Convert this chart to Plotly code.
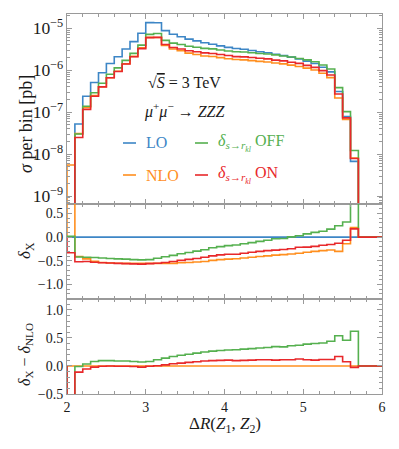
import plotly.graph_objects as go
from plotly.subplots import make_subplots

# ── Data ─────────────────────────────────────────────────────────────────────
# bins of width 0.1 in Delta R, left edges 2.0 ... 5.6
bin_lo = [2.0, 2.1, 2.2, 2.3, 2.4, 2.5, 2.6, 2.7, 2.8, 2.9,
          3.0, 3.1, 3.2, 3.3, 3.4, 3.5, 3.6, 3.7, 3.8, 3.9,
          4.0, 4.1, 4.2, 4.3, 4.4, 4.5, 4.6, 4.7, 4.8, 4.9,
          5.0, 5.1, 5.2, 5.3, 5.4, 5.5, 5.6]
bin_last_edge = 5.7

# LO cross section per bin [pb]
lo_xsec = [2e-11, 5.2e-8, 2.4e-7, 5.1e-7, 8.7e-7, 1.45e-6, 2.1e-6, 3.2e-6, 4.8e-6, 7.6e-6,
           1.36e-5, 1.35e-5, 8.8e-6, 7.2e-6, 6.3e-6, 5.5e-6, 5.0e-6, 4.5e-6, 4.15e-6, 3.8e-6,
           3.5e-6, 3.3e-6, 3.15e-6, 2.95e-6, 2.75e-6, 2.6e-6, 2.4e-6, 2.25e-6, 2.05e-6, 1.85e-6,
           1.65e-6, 1.45e-6, 1.18e-6, 9.1e-7, 3.1e-7, 7.8e-8, 6.7e-9]

# relative NLO correction delta_NLO
d_nlo = [274.0, -0.41, -0.46, -0.51, -0.535, -0.545, -0.55, -0.555, -0.555, -0.55,
         -0.555, -0.555, -0.555, -0.555, -0.54, -0.535, -0.525, -0.515, -0.49, -0.475,
         -0.465, -0.455, -0.44, -0.425, -0.41, -0.395, -0.38, -0.37, -0.355, -0.34,
         -0.32, -0.30, -0.285, -0.27, -0.30, -0.14, 0.20]

# delta_X - delta_NLO for the s -> r_kl variants
dd_off = [-273.98, -0.01, 0.035, 0.08, 0.095, 0.095, 0.09, 0.09, 0.08, 0.07,
          0.08, 0.11, 0.14, 0.17, 0.19, 0.21, 0.23, 0.25, 0.265, 0.275,
          0.285, 0.29, 0.30, 0.31, 0.32, 0.33, 0.345, 0.34, 0.36, 0.37,
          0.39, 0.40, 0.41, 0.44, 0.54, 0.46, 0.62]
dd_on = [-274.33, -0.11, -0.055, -0.02, -0.005, 0.0, -0.005, -0.005, -0.01, -0.02,
         -0.005, 0.005, 0.02, 0.04, 0.05, 0.065, 0.075, 0.09, 0.095, 0.10,
         0.105, 0.095, 0.10, 0.105, 0.11, 0.11, 0.105, 0.11, 0.11, 0.125,
         0.11, 0.105, 0.115, 0.115, 0.17, 0.075, -0.025]

# ── Derived series ───────────────────────────────────────────────────────────
d_lo = [0.0] * len(lo_xsec)
d_off = [a + b for a, b in zip(d_nlo, dd_off)]
d_on = [a + b for a, b in zip(d_nlo, dd_on)]
zero_rel = [0.0] * len(lo_xsec)

xsec = {
    "LO": lo_xsec,
    "NLO": [s * (1 + d) for s, d in zip(lo_xsec, d_nlo)],
    "OFF": [s * (1 + d) for s, d in zip(lo_xsec, d_off)],
    "ON": [s * (1 + d) for s, d in zip(lo_xsec, d_on)],
}
rel = {"LO": d_lo, "NLO": d_nlo, "OFF": d_off, "ON": d_on}
rel_nlo = {"NLO": zero_rel, "OFF": dd_off, "ON": dd_on}

# ── Style ────────────────────────────────────────────────────────────────────
COLORS = {"LO": "#3d86c6", "NLO": "#ff8f1f", "OFF": "#55b04f", "ON": "#e8282b"}
FRAME = "#9a9a9a"
FONT = "Liberation Serif"
TEXT = "#1a1a1a"
TICKFONT = dict(family=FONT, size=14, color=TEXT)

# page offset of the plot div (browser body margin)
PAGE_OFF = 8


def step_xy_log(vals):
    x = [bin_lo[0]] + bin_lo + [bin_last_edge]
    y = [1e-13] + list(vals) + [1e-13]
    return x, y


def step_xy_rel(vals):
    x = [bin_lo[0]] + bin_lo + [bin_last_edge, 6.0]
    y = [0.0] + list(vals) + [0.0, 0.0]
    return x, y


fig = make_subplots(rows=3, cols=1, shared_xaxes=True, vertical_spacing=0)

for key in ["LO", "NLO", "OFF", "ON"]:
    x, y = step_xy_log(xsec[key])
    fig.add_trace(go.Scatter(x=x, y=y, mode="lines", line_shape="hv",
                             line=dict(color=COLORS[key], width=1.6),
                             showlegend=False), row=1, col=1)
for key in ["LO", "NLO", "OFF", "ON"]:
    x, y = step_xy_rel(rel[key])
    fig.add_trace(go.Scatter(x=x, y=y, mode="lines", line_shape="hv",
                             line=dict(color=COLORS[key], width=1.6),
                             showlegend=False), row=2, col=1)
for key in ["NLO", "OFF", "ON"]:
    x, y = step_xy_rel(rel_nlo[key])
    fig.add_trace(go.Scatter(x=x, y=y, mode="lines", line_shape="hv",
                             line=dict(color=COLORS[key], width=1.6),
                             showlegend=False), row=3, col=1)

axis_common = dict(showline=True, linecolor=FRAME, linewidth=1, mirror="allticks",
                   ticks="inside", tickcolor=FRAME, ticklen=5, showgrid=False,
                   zeroline=False, tickfont=TICKFONT)

fig.update_xaxes(range=[2, 6], dtick=1, tick0=2,
                 minor=dict(ticks="inside", dtick=0.2, ticklen=3, tickcolor=FRAME),
                 **axis_common)
fig.update_xaxes(showticklabels=False, row=1, col=1)
fig.update_xaxes(showticklabels=False, row=2, col=1)
fig.update_xaxes(showticklabels=True, row=3, col=1)

fig.update_yaxes(type="log", range=[-9.19, -4.66], dtick=1, exponentformat="power",
                 minor=dict(ticks="inside", dtick="D1", ticklen=3, tickcolor=FRAME),
                 domain=[0.5, 1.0], row=1, col=1, **axis_common)
fig.update_yaxes(range=[-1.3, 0.7], dtick=0.5, tick0=0, tickformat=".1f",
                 minor=dict(ticks="inside", dtick=0.1, ticklen=3, tickcolor=FRAME),
                 domain=[0.2508, 0.5], row=2, col=1, **axis_common)
fig.update_yaxes(range=[-0.5, 1.2], dtick=0.5, tick0=0, tickformat=".1f",
                 minor=dict(ticks="inside", dtick=0.1, ticklen=3, tickcolor=FRAME),
                 domain=[0.0, 0.2508], row=3, col=1, **axis_common)

# figure is 8px smaller than the window on each side (body margin)
fig.update_layout(
    width=399 - 2 * PAGE_OFF, height=449 - 2 * PAGE_OFF,
    margin=dict(l=67 - PAGE_OFF, r=17 - PAGE_OFF, t=14 - PAGE_OFF, b=55 - PAGE_OFF),
    paper_bgcolor="white", plot_bgcolor="white",
    font=dict(family=FONT, size=15, color=TEXT),
)


def px_to_paper(px, py):
    return (px - 67) / 315, (394 - py) / 380


def note(text, px, py, size=15, color=TEXT, xanchor="center", angle=0):
    x, y = px_to_paper(px, py)
    fig.add_annotation(text=text, x=x, y=y, xref="paper", yref="paper",
                       xanchor=xanchor, yanchor="middle", showarrow=False,
                       textangle=angle, font=dict(family=FONT, size=size, color=color))


# process info
note("√<span style='text-decoration:overline'><i>S</i></span> = 3 TeV", 184, 82, size=16)
note("<i>μ</i><sup>+</sup><i>μ</i><sup>−</sup> → <i>ZZZ</i>", 184, 110, size=16)

# legend
legend_items = [
    ("LO", "LO", 123, 143),
    ("NLO", "NLO", 123, 175),
    ("OFF", "<i>δ</i><sub><i>s</i>→<i>r<sub>kl</sub></i></sub> OFF", 195, 143),
    ("ON", "<i>δ</i><sub><i>s</i>→<i>r<sub>kl</sub></i></sub> ON", 195, 175),
]
for key, label, px, py in legend_items:
    x0, y0 = px_to_paper(px, py)
    x1, _ = px_to_paper(px + 13, py)
    fig.add_shape(type="line", x0=x0, x1=x1, y0=y0, y1=y0, xref="paper", yref="paper",
                  line=dict(color=COLORS[key], width=1.6))
    note(label, px + 21, py, size=16, color=COLORS[key], xanchor="left")

# axis titles
note("<i>σ</i> per bin [pb]", 26, 124, size=18, angle=-90)
note("<i>δ</i><sub>X</sub>", 26, 251, size=17, angle=-90)
note("<i>δ</i><sub>X</sub> − <i>δ</i><sub>NLO</sub>", 25, 355, size=16, angle=-90)
note("Δ<i>R</i>(<i>Z</i><sub>1</sub>, <i>Z</i><sub>2</sub>)", 225, 425, size=17)

fig.write_html("out.html")
